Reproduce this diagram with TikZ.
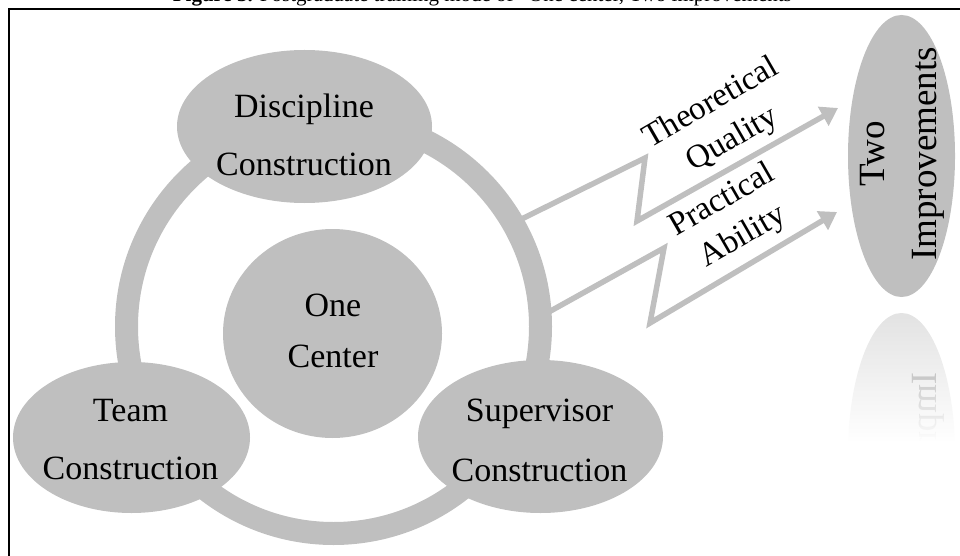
\documentclass[tikz,border=0pt]{standalone}
\usepackage{fontspec}
\usepackage{graphicx}
\setmainfont{Liberation Serif}
\usetikzlibrary{shapes.geometric,arrows.meta}
\begin{document}
\begin{tikzpicture}[x=1pt,y=-1pt,
  blob/.style={ellipse, fill=gray!50, inner sep=0pt, outer sep=0pt},
  lbl/.style={align=center, inner sep=0pt, text=black},
  big/.style={font=\fontsize{34}{#1}\selectfont},
  zig/.style={draw=gray!50, line width=5.5pt, line join=miter, -{Triangle[length=17pt,width=21pt]}},
]
\useasboundingbox (0,0) rectangle (960,556);
\clip (0,0) rectangle (960,556);

% caption (cut off at top) and frame
\node[anchor=base, inner sep=0pt, font=\fontsize{21}{24}\selectfont] (cap) at (487,1.5)
  {\textbf{Figure 3.} Postgraduate training mode of “One center, Two improvements”};
\draw[line width=2pt] (8.5,600) -- (8.5,9.5) -- (1000,9.5);

% ring (as a node, anchors inside the band)
\coordinate (rc) at (333.5,326.5);
\node[circle, minimum size=414pt, inner sep=0pt, outer sep=-5pt] (ringA) at (rc) {};

% zig-zag arrows
\coordinate (tq1) at (645,158);
\coordinate (tq2) at (637,221);
\coordinate (tqE) at (838,108);
\coordinate (pa1) at (664,248);
\coordinate (pa2) at (650,323);
\coordinate (paE) at (837,212);
\draw[zig] (ringA.30) -- (tq1) -- (tq2) -- (tqE);
\draw[zig] (ringA.2.5) -- (pa1) -- (pa2) -- (paE);

\node[circle, draw=gray!50, line width=23pt, minimum size=414pt, inner sep=0pt] (ring) at (rc) {};

% ellipses
\node[blob, minimum width=255pt, minimum height=153pt] (disc) at (304.5,126.5) {};
\node[blob, minimum width=237pt, minimum height=151pt] (team) at (131.5,437.5) {};
\node[blob, minimum width=245pt, minimum height=153pt] (sup) at (540.5,436.5) {};
\node[blob, minimum width=219pt, minimum height=209pt] (one) at (332.5,333.5) {};
\node[blob, minimum width=107pt, minimum height=282pt] (imp) at (901.5,156) {};

% texts
\node[lbl, big=58] (discT) at (304,134.5) {Discipline\\Construction};
\node[lbl, big=58] (teamT) at (130.5,439.5) {Team\\Construction};
\node[lbl, big=60] (supT) at (539.5,440.5) {Supervisor\\Construction};
\node[lbl, big=51] (oneT) at (333,331) {One\\Center};
\node[lbl, rotate=90, font=\fontsize{37}{52}\selectfont] (impT) at (902,154) {Two\\Improvements};
\node[lbl, rotate=30, font=\fontsize{33}{42}\selectfont] (tqT) at (722,122) {Theoretical\\Quality};
\node[lbl, rotate=30, font=\fontsize{33}{42}\selectfont] (paT) at (733,219) {Practical\\Ability};

% reflection of the right ellipse, fading to white
\fill[gray!22] (901.5,454) ellipse [x radius=53.5pt, y radius=141pt];
\node[inner sep=0pt, rotate=-90, anchor=west, text=gray!85, font=\fontsize{37}{52}\selectfont] (refl) at (928,372) {\scalebox{1}[-1]{Improv}};
\foreach \k in {0,...,64}
  \fill[white, opacity=\k/64] (840,{313+2*\k}) rectangle (962,{315+2*\k});
\fill[white] (840,443) rectangle (962,560);
\end{tikzpicture}
\end{document}
